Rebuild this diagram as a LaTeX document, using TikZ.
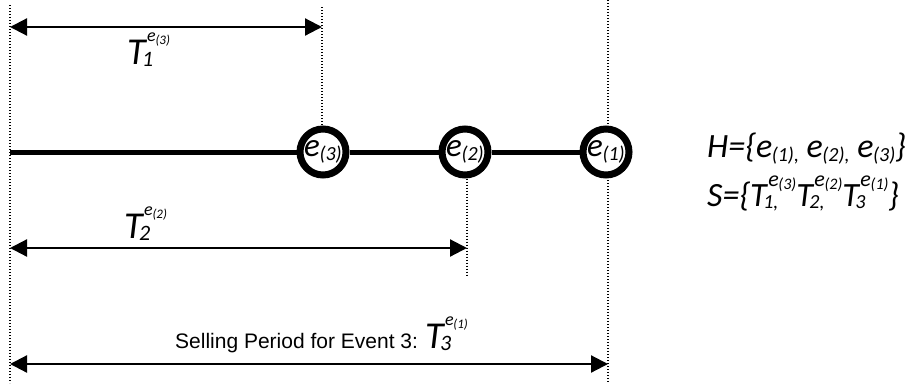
\documentclass[tikz,border=0pt]{standalone}
\usepackage{fontspec}
\setmainfont{Carlito}
\newfontfamily\arialfont{Liberation Sans}
\usetikzlibrary{arrows.meta,backgrounds}

% font size shortcut
\newcommand\fsz[1]{\fontsize{#1pt}{#1pt}\selectfont}
% event symbol e_(k)
\newcommand\evt[1]{{\itshape e\kern-0.5pt\raisebox{-4.5pt}{\fsz{20}(#1)}}}
% period symbol T_sub^{e_(k)} with sizes: #1 T, #2 sub, #3 e, #4 (k), #5 sub text, #6 k
\newcommand\Tgen[6]{{\itshape\fsz{#1}T\kern-3.5pt\rlap{\raisebox{-2.5pt}{\fsz{#2}#5}}\kern5pt\raisebox{0.58\dimexpr#1pt\relax}{\fsz{#3}e\kern-0.3pt\raisebox{-3pt}{\fsz{#4}(#6)}}}}
\newcommand\Tper[2]{\Tgen{38}{22}{18}{13}{#1}{#2}}
\newcommand\Tset[2]{\Tgen{34}{20}{22}{16}{#1}{#2}}

\tikzset{
  guide/.style={line width=1.4pt, dash pattern=on 1.4pt off 1.6pt},
  span/.style={line width=2.2pt, {Triangle[length=17pt,width=17pt]}-{Triangle[length=17pt,width=17pt]}},
  timeline/.style={line width=5pt},
  event/.style={circle, draw, line width=7pt, fill=white, minimum size=46pt, inner sep=0pt, font=\fsz{33}},
  lab/.style={anchor=base west, inner sep=0pt}
}

\begin{document}
\begin{tikzpicture}[x=1pt, y=-1pt]
  \useasboundingbox (0,0) rectangle (915,383);

  % the three events on the time line
  \node[event] (c3) at (323,152) {\evt{3}};
  \node[event] (c2) at (465,152) {\evt{2}};
  \node[event] (c1) at (606,152) {\evt{1}};

  % guide coordinates
  \coordinate (g0t) at (10,5);
  \coordinate (g0b) at (10,383);
  \coordinate (g3t) at (322,7);
  \coordinate (g2b) at (467,276);
  \coordinate (g1t) at (608,0);
  \coordinate (g1b) at (608,383);
  \coordinate (start) at (10,152);

  \begin{pgfonlayer}{background}
    % dotted guides
    \draw[guide] (g0t) -- (g0b);
    \draw[guide] (g1t) -- (g1b);
    \draw[guide] (g3t) -- (c3.north -| g3t);
    \draw[guide] (c2.south -| g2b) -- (g2b);
    % time line
    \draw[timeline] (start) -- (c3) -- (c2) -- (c1);
  \end{pgfonlayer}

  % selling periods
  \coordinate (a1l) at (10,27);
  \coordinate (a1r) at (322,27);
  \coordinate (a2l) at (10,248);
  \coordinate (a2r) at (467,248);
  \coordinate (a3l) at (10,364);
  \coordinate (a3r) at (608,364);
  \draw[span] (a1l) -- (a1r);
  \draw[span] (a2l) -- (a2r);
  \draw[span] (a3l) -- (a3r);

  \node[lab] (t1) at (127,64) {\Tper{1}{3}};
  \node[lab] (t2) at (124,238) {\Tper{2}{2}};
  \node[lab] (t3) at (175,348) {{\arialfont\fsz{21}Selling Period for Event 3:}\kern7pt\Tper{3}{1}};

  % sets of events and periods
  \node[lab, font=\fsz{34}] (hset) at (707,157) {\itshape H=\{\evt{1}\raisebox{-4.5pt}{\fsz{20},} \evt{2}\raisebox{-4.5pt}{\fsz{20},} \evt{3}\}};
  \node[lab, font=\fsz{34}] (sset) at (707,206) {\itshape S=\{\Tset{1,}{3}\Tset{2,}{2}\Tset{3}{1}\}};
\end{tikzpicture}
\end{document}
